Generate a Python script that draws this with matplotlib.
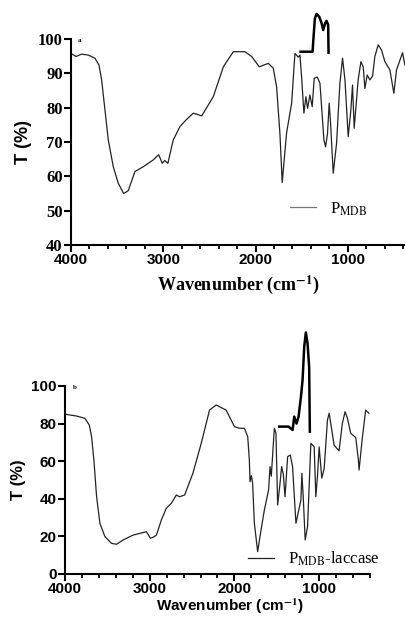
#!/usr/bin/env python3
"""
FTIR spectra of P_MDB before (a) and after (b) laccase treatment.
"""

import matplotlib
matplotlib.use("Agg")
import matplotlib.pyplot as plt
from matplotlib.ticker import MultipleLocator

SERIF = "Liberation Serif"
SANS = "Liberation Sans"

# panel a: P_MDB
wn_a = [4000, 3946, 3884, 3812, 3740, 3697, 3668, 3632, 3596, 3542, 3488, 3430,
        3380, 3307, 3217, 3108, 3050, 3011, 2985, 2950, 2892, 2819, 2750, 2675,
        2625, 2584, 2458, 2349, 2241, 2115, 2042, 1960, 1862, 1808, 1772, 1736,
        1711, 1664, 1609, 1573, 1537, 1519, 1501, 1476, 1454, 1436, 1411, 1386,
        1364, 1331, 1302, 1259, 1241, 1220, 1202, 1187, 1158, 1122, 1086, 1057,
        1031, 996, 967, 949, 931, 888, 858, 833, 815, 790, 761, 732, 707, 671,
        635, 598, 544, 501, 472, 407, 381]
t_a = [95.8, 94.9, 95.6, 95.3, 94.4, 92.4, 88.1, 79.3, 70.6, 62.8, 58.0, 55.0,
       55.8, 61.4, 62.8, 64.8, 66.3, 63.8, 64.6, 63.8, 70.6, 74.5, 76.5, 78.4,
       78.0, 77.6, 83.2, 91.9, 96.3, 96.3, 94.9, 91.9, 92.9, 91.5, 86.1, 72.5,
       58.2, 72.6, 81.3, 95.8, 94.7, 95.3, 89.0, 78.4, 83.2, 79.8, 83.7, 80.3,
       88.6, 88.9, 87.1, 70.6, 68.6, 72.5, 81.3, 75.5, 60.9, 69.6, 87.1, 94.4,
       88.1, 71.6, 79.3, 86.6, 74.0, 88.1, 93.4, 91.9, 85.6, 89.5, 88.1, 89.2,
       94.9, 98.3, 96.8, 93.4, 91.0, 84.2, 91.0, 96.0, 92.4]
# overlapping trace fragment in panel a
wn_a_frag = [1512, 1382, 1375, 1357, 1339, 1310, 1284, 1267, 1245, 1231, 1213, 1209]
t_a_frag = [96.3, 96.3, 99.2, 106.0, 107.3, 106.5, 104.6, 102.6, 104.6, 105.3, 104.1, 96.0]

# panel b: P_MDB-laccase
wn_b = [4000, 3862, 3765, 3714, 3686, 3659, 3627, 3588, 3529, 3451, 3392, 3314,
        3196, 3039, 2992, 2961, 2921, 2863, 2804, 2745, 2686, 2647, 2588, 2490,
        2392, 2294, 2216, 2098, 2000, 1941, 1882, 1843, 1824, 1816, 1800, 1785,
        1765, 1726, 1686, 1647, 1597, 1580, 1565, 1529, 1510, 1490, 1462, 1443,
        1423, 1403, 1372, 1341, 1314, 1274, 1215, 1204, 1188, 1165, 1137, 1098,
        1059, 1039, 1020, 1000, 969, 941, 902, 882, 851, 824, 795, 765, 726, 694,
        667, 627, 568, 537, 529, 490, 451, 412]
t_b = [85.0, 84.0, 82.8, 79.3, 73.0, 60.6, 41.1, 27.0, 19.9, 16.3, 15.8, 18.1,
       20.7, 22.5, 19.0, 19.5, 20.7, 28.7, 35.0, 37.6, 42.0, 41.1, 42.0, 53.6,
       69.5, 87.2, 89.9, 87.2, 78.4, 77.5, 77.5, 73.0, 60.6, 49.1, 52.3, 48.0,
       27.0, 11.9, 23.4, 34.0, 44.7, 57.1, 52.0, 77.5, 75.0, 36.7, 48.2, 57.1,
       53.0, 41.1, 62.4, 63.3, 57.1, 27.0, 39.4, 53.6, 41.0, 18.1, 25.2, 69.5,
       67.7, 41.1, 52.0, 67.6, 51.0, 56.0, 81.9, 85.5, 76.6, 68.6, 67.0, 65.5,
       80.2, 86.3, 83.0, 74.8, 72.6, 60.6, 55.3, 72.6, 87.2, 85.5]
# overlapping trace fragment in panel b
wn_b_frag = [1471, 1361, 1314, 1294, 1267, 1243, 1215, 1196, 1176, 1157, 1137, 1118, 1110]
t_b_frag = [78.4, 78.4, 76.6, 83.7, 80.0, 83.7, 94.3, 103.0, 121.0, 128.5, 122.7, 110.0, 75.7]


def style_axes(ax, tick_family_x, tick_family_y, ysize):
    for side in ("top", "right"):
        ax.spines[side].set_visible(False)
    for side in ("left", "bottom"):
        ax.spines[side].set_linewidth(1.5)
    ax.xaxis.set_major_locator(MultipleLocator(1000))
    ax.xaxis.set_minor_locator(MultipleLocator(200))
    ax.tick_params(axis="both", which="major", direction="out", length=5, width=1.5, pad=1)
    ax.tick_params(axis="x", which="minor", direction="out", length=3, width=1.3)
    for lab in ax.get_xticklabels():
        lab.set_family(tick_family_x)
        lab.set_weight("bold")
        lab.set_size(11)
    for lab in ax.get_yticklabels():
        lab.set_family(tick_family_y)
        lab.set_weight("bold")
        lab.set_size(ysize)


plt.rcParams["mathtext.fontset"] = "stix"

fig = plt.figure(figsize=(4.06, 6.17), dpi=100)
ax_a = fig.add_axes([0.1749, 0.6029, 0.8227, 0.3339])
ax_b = fig.add_axes([0.1601, 0.0697, 0.7512, 0.3047])

# --- panel a ---
ax_a.plot(wn_a, t_a, color="#222222", lw=0.9, clip_on=False, label=r"P$_{\mathrm{MDB}}$")
ax_a.plot(wn_a_frag, t_a_frag, color="black", lw=1.8, clip_on=False)
ax_a.set_xlim(4000, 380)
ax_a.set_ylim(40, 100)
ax_a.set_yticks([40, 50, 60, 70, 80, 90, 100])
ax_a.set_xticks([4000, 3000, 2000, 1000])
style_axes(ax_a, SANS, SERIF, 12)
ax_a.set_ylabel("T (%)", family=SANS, weight="bold", size=13, labelpad=4)
ax_a.set_xlabel(r"Wavenumber (cm$^{\mathbf{-1}}$)", family=SERIF, weight="bold", size=13, labelpad=4)
ax_a.text(0.02, 0.985, "a", transform=ax_a.transAxes, family=SERIF, weight="bold", size=5)
leg_a = ax_a.legend(loc="center left", bbox_to_anchor=(0.61, 0.175), frameon=False,
                    handlelength=1.6, handletextpad=0.8, prop={"family": SERIF, "size": 12})
leg_a.get_lines()[0].set_color("#777777")

# --- panel b ---
ax_b.plot(wn_b, t_b, color="#222222", lw=0.9, clip_on=False, label=r"P$_{\mathrm{MDB}}$-laccase")
ax_b.plot(wn_b_frag, t_b_frag, color="black", lw=1.8, clip_on=False)
ax_b.set_xlim(4000, 400)
ax_b.set_ylim(0, 100)
ax_b.set_yticks([0, 20, 40, 60, 80, 100])
ax_b.set_xticks([4000, 3000, 2000, 1000])
style_axes(ax_b, SANS, SANS, 11)
ax_b.set_ylabel("T (%)", family=SANS, weight="bold", size=12, labelpad=4)
ax_b.set_xlabel(r"Wavenumber (cm$^{\mathbf{-1}}$)", family=SANS, weight="bold", size=11, labelpad=0)
ax_b.xaxis.set_label_coords(0.54, -0.12)
ax_b.text(0.025, 0.985, "b", transform=ax_b.transAxes, family=SERIF, weight="bold", size=5)
ax_b.legend(loc="center left", bbox_to_anchor=(0.55, 0.08), frameon=False,
            handlelength=1.6, handletextpad=0.8, prop={"family": SERIF, "size": 12})

fig.savefig("out.png", dpi=100)
plt.close(fig)
